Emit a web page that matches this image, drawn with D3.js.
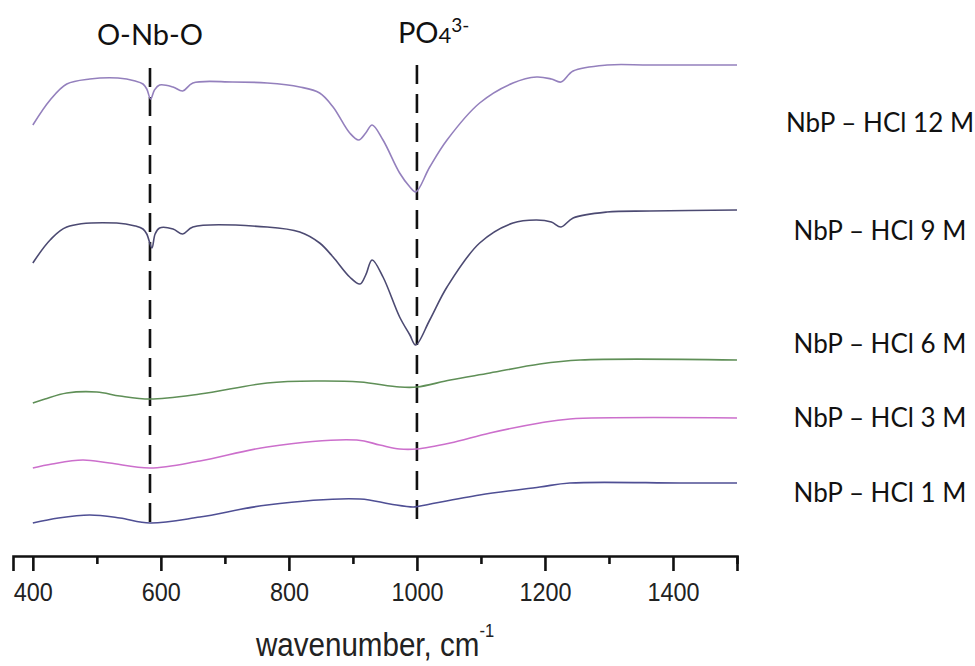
<!DOCTYPE html>
<html>
<head>
<meta charset="utf-8">
<script src="https://cdn.jsdelivr.net/npm/d3@7"></script>
<style>
  html, body { margin: 0; padding: 0; background: #fff; }
  svg { display: block; }
</style>
</head>
<body>
<div id="chart"></div>
<script>
// ---- data (wavenumber cm^-1, offset transmittance a.u.) ----
const seriesNames = ["NbP \u2013 HCl 12 M", "NbP \u2013 HCl 9 M", "NbP \u2013 HCl 6 M", "NbP \u2013 HCl 3 M", "NbP \u2013 HCl 1 M"];

const hcl12 = [[400,431],[427,456],[453,472],[489,477],[533,478],[560,475],[572,472],[578,467],[584,457],[590,466],[598,471],[619,469],[634,465],[650,473],[712,474],[766,473],[817,469],[848,463],[869,449],[895,423],[909,416],[920,423],[930,431],[947,416],[973,383],[989,369],[998,364],[1020,389],[1047,416],[1098,453],[1150,473],[1187,479],[1210,477],[1225,474],[1244,485],[1297,491],[1364,491],[1500,491]];
const hcl9 = [[400,293],[427,316],[453,329],[531,333],[560,330],[572,327],[578,322],[586,308],[591,322],[598,328],[619,327],[634,322],[650,329],[766,329],[817,324],[848,313],[869,299],[895,279],[911,272],[920,281],[930,296],[947,279],[973,239],[989,221],[998,211],[1020,236],[1047,269],[1098,313],[1150,333],[1187,336],[1210,334],[1225,329],[1244,338],[1297,344],[1364,345],[1500,346]];
const hcl6 = [[400,153],[419,157],[453,163],[500,164],[536,160],[583,157],[661,162],[766,173],[844,175],[911,174],[973,169],[1000,169],[1052,176],[1114,183],[1192,192],[1255,196],[1500,196]];
const hcl3 = [[400,88],[430,92],[478,96],[520,93],[583,88],[661,95],[766,109],[906,116],[942,111],[973,107],[1000,107],[1052,113],[1114,123],[1192,133],[1239,137],[1500,138]];
const hcl1 = [[400,33],[440,38],[489,41],[536,38],[583,33],[661,39],[766,51],[911,57],[958,52],[994,49],[1005,50],[1098,61],[1192,69],[1239,73],[1411,73],[1500,73]];

const bandPositions = [583, 1000];
const xTicks = [400,500,600,700,800,900,1000,1100,1200,1300,1400,1500];
const xTickLabels = ["400","600","800","1000","1200","1400"];

// ---- layout ----
const W = 975, H = 666;
const colors = ["#9480bd", "#4c4a72", "#5f8f57", "#cc6fcc", "#4f4f94"];
const labelBaselines = [424, 316, 203, 129, 54];   // in data units
const bandExtents = [[28, 488], [34, 491]];

const x = d3.scaleLinear().domain([369, 1500]).range([13, 737]);
const y = d3.scaleLinear().domain([0, 500]).range([556, 56]);

const svg = d3.select("#chart").append("svg")
  .attr("width", W).attr("height", H)
  .style("font-family", "Lato, 'Open Sans', sans-serif");

// dashed band markers
svg.selectAll("line.band").data(bandPositions).join("line")
  .attr("class", "band")
  .attr("x1", d => x(d)).attr("x2", d => x(d))
  .attr("y1", (d, i) => y(bandExtents[i][1]))
  .attr("y2", (d, i) => y(bandExtents[i][0]))
  .attr("stroke", "#111").attr("stroke-width", 2.6)
  .attr("stroke-dasharray", "19,10");

// spectra
const line = d3.line().x(d => x(d[0])).y(d => y(d[1])).curve(d3.curveCatmullRom.alpha(0.5));
const allSeries = [hcl12, hcl9, hcl6, hcl3, hcl1];
svg.selectAll("path.spec").data(allSeries).join("path")
  .attr("class", "spec")
  .attr("d", line)
  .attr("fill", "none")
  .attr("stroke", (d, i) => colors[i])
  .attr("stroke-width", 1.6);

// series labels
svg.selectAll("text.lab").data(seriesNames).join("text")
  .attr("class", "lab")
  .attr("x", 880)
  .attr("y", (d, i) => y(labelBaselines[i]))
  .attr("text-anchor", "middle")
  .attr("font-size", 26)
  .attr("fill", "#111")
  .text(d => d);

// band annotations
svg.append("text")
  .attr("x", x(bandPositions[0]))
  .attr("y", 45)
  .attr("text-anchor", "middle")
  .attr("font-size", 29)
  .attr("fill", "#111")
  .text("O-Nb-O");

const po = svg.append("text")
  .attr("x", x(bandPositions[1]) - 19)
  .attr("y", 43)
  .attr("font-size", 29)
  .attr("fill", "#111");
po.append("tspan").text("PO");
po.append("tspan").attr("font-size", 22).text("4");
po.append("tspan").attr("font-size", 19).attr("dy", -11).text("3-");

// x axis
const majorSet = new Set(xTickLabels.map(Number));
const axis = d3.axisBottom(x)
  .tickValues(xTicks)
  .tickSizeOuter(0)
  .tickSize(15)
  .tickFormat(d => majorSet.has(d) ? String(d) : "");

const gAxis = svg.append("g").attr("transform", "translate(0,556)").call(axis);
gAxis.select(".domain").attr("stroke", "#111").attr("stroke-width", 2.6);
gAxis.selectAll(".tick line")
  .attr("stroke", "#111").attr("stroke-width", 2.6)
  .attr("y2", d => majorSet.has(d) ? 15 : 8);
gAxis.selectAll(".tick text")
  .attr("y", 45).attr("dy", 0)
  .attr("font-family", "'Liberation Sans', Arial, sans-serif")
  .attr("font-size", 26)
  .attr("fill", "#222")
  .attr("transform", "scale(0.9,1)");

// axis title
const title = svg.append("text")
  .attr("transform", `translate(${(x.range()[0] + x.range()[1]) / 2},656) scale(0.87,1)`)
  .attr("text-anchor", "middle")
  .attr("font-family", "'Liberation Sans', Arial, sans-serif")
  .attr("font-size", 34)
  .attr("fill", "#222");
title.append("tspan").text("wavenumber, cm");
title.append("tspan").attr("font-size", 19).attr("dy", -19).text("-1");
</script>
</body>
</html>
